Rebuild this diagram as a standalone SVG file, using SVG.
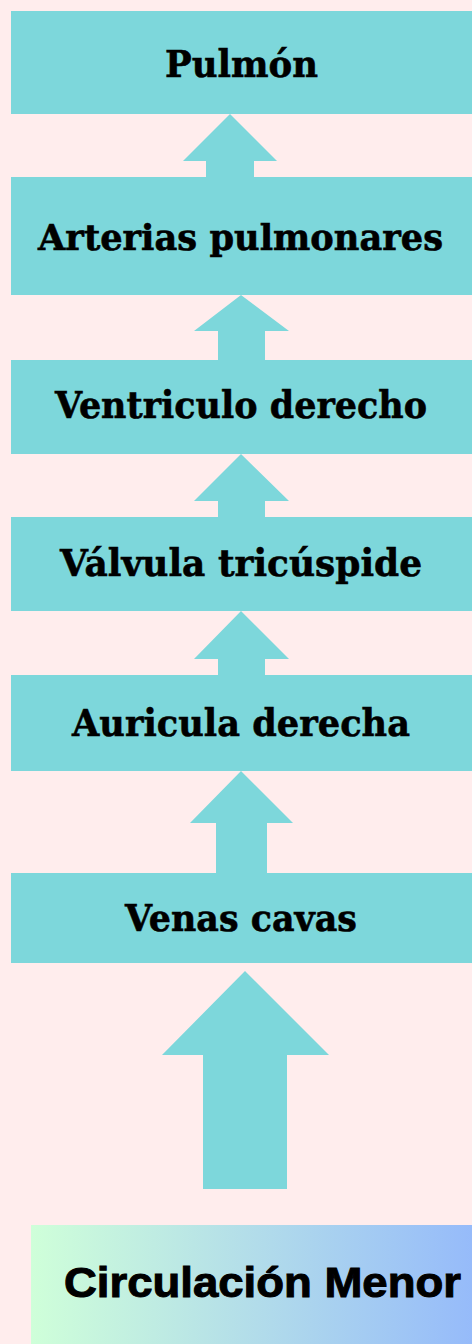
<svg xmlns="http://www.w3.org/2000/svg" width="472" height="1344" viewBox="0 0 472 1344">
<style>
.box{fill:#7dd7db}
.arr{fill:#7dd7db}
.lbl{font-family:"DejaVu Serif","Liberation Serif",serif;font-weight:bold;font-size:38px;fill:#000;stroke:#000;stroke-width:0.6;text-anchor:middle}
.title{font-family:"Liberation Sans","DejaVu Sans",sans-serif;font-weight:bold;font-size:42px;fill:#000;stroke:#000;stroke-width:1}
</style>
<defs>
<linearGradient id="g" x1="0" y1="0" x2="1" y2="0">
<stop offset="0" stop-color="#cfffd9"/>
<stop offset="1" stop-color="#96bbfa"/>
</linearGradient>
</defs>
<rect x="0" y="0" width="472" height="1344" fill="#ffeded"/>
<g id="connectors">
<polygon class="arr" points="230,114 277,161 254,161 254,178 206,178 206,161 183,161"/>
<polygon class="arr" points="241,295 289,331 265,331 265,361 218,361 218,331 194,331"/>
<polygon class="arr" points="241,454 289,501 265,501 265,518 218,518 218,501 194,501"/>
<polygon class="arr" points="241,611 289,659 265,659 265,676 218,676 218,659 194,659"/>
<polygon class="arr" points="241,771 293,823 267,823 267,874 216,874 216,823 190,823"/>
<polygon class="arr" points="245,971 329,1055 287,1055 287,1189 203,1189 203,1055 162,1055"/>
</g>
<g id="pulmon">
<rect class="box" x="11" y="11" width="461" height="103"/>
<text class="lbl" x="241.5" y="77" textLength="153" lengthAdjust="spacingAndGlyphs">Pulmón</text>
</g>
<g id="arterias">
<rect class="box" x="11" y="177" width="461" height="118"/>
<text class="lbl" x="240.5" y="250" style="font-size:35px" textLength="405" lengthAdjust="spacingAndGlyphs">Arterias pulmonares</text>
</g>
<g id="ventriculo">
<rect class="box" x="11" y="360" width="461" height="94"/>
<text class="lbl" x="241" y="418" textLength="372" lengthAdjust="spacingAndGlyphs">Ventriculo derecho</text>
</g>
<g id="valvula">
<rect class="box" x="11" y="517" width="461" height="94"/>
<text class="lbl" x="241" y="576" textLength="362" lengthAdjust="spacingAndGlyphs">Válvula tricúspide</text>
</g>
<g id="auricula">
<rect class="box" x="11" y="675" width="461" height="96"/>
<text class="lbl" x="241" y="736" textLength="338" lengthAdjust="spacingAndGlyphs">Auricula derecha</text>
</g>
<g id="venas">
<rect class="box" x="11" y="873" width="461" height="90"/>
<text class="lbl" x="241" y="931" textLength="232" lengthAdjust="spacingAndGlyphs">Venas cavas</text>
</g>
<g id="titulo">
<rect x="31" y="1225" width="441" height="119" fill="url(#g)"/>
<text class="title" x="64" y="1297" textLength="397" lengthAdjust="spacingAndGlyphs">Circulación Menor</text>
</g>
</svg>
